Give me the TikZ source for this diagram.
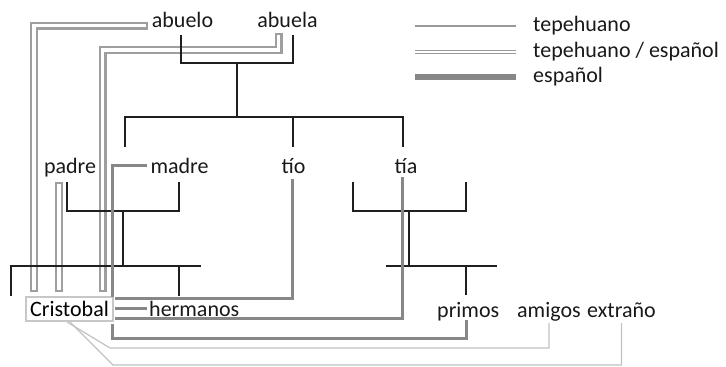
\documentclass[tikz,border=0pt]{standalone}
\usepackage{fontspec}
\setmainfont{Carlito}
\begin{document}
\begin{tikzpicture}[x=1pt,y=-1pt,
  lbl/.style={inner sep=0pt,anchor=base,font=\fontsize{22}{26}\selectfont,text=black!90},
  fam/.style={line width=1.5pt,draw=black!88},
  dbl/.style={draw=black!38,line width=2.2pt,double=white,double distance=3.6pt,line cap=rect,line join=miter},
  esp/.style={draw=black!47,line width=3pt,line join=miter},
  tep/.style={draw=black!24,line width=1.2pt},
  egobox/.style={draw=black!22,line width=1.3pt,minimum width=87pt,minimum height=24pt,inner sep=0pt,font=\fontsize{22}{26}\selectfont}]
\useasboundingbox (0,0) rectangle (726,367);
% --- nodes ---
\node[lbl] (abuelo) at (182.5,27) {abuelo};
\node[lbl] (abuela) at (287.5,27) {abuela};
\node[lbl] (padre) at (70,173) {padre};
\node[lbl] (madre) at (179.5,173) {madre};
\node[lbl] (tio) at (293.5,173) {tío};
\node[lbl] (tia) at (406,173) {tía};
\node[egobox] (cris) at (69.5,309) {Cristobal};
\node[lbl,anchor=base west] (herm) at (149,316) {hermanos};
\node[lbl,anchor=base west] (primos) at (437,317) {primos};
\node[lbl,anchor=base west] (amigos) at (517,317) {amigos};
\node[lbl,anchor=base west] (extr) at (587,317) {extraño};
% legend
\node[lbl,anchor=base west] (legA) at (533,31) {tepehuano};
\node[lbl,anchor=base west] (legB) at (533,57) {tepehuano / español};
\node[lbl,anchor=base west] (legC) at (533,82) {español};
\coordinate (lA) at (415,26); \coordinate (lA2) at (516,26);
\coordinate (lB) at (415,52); \coordinate (lB2) at (516,52);
\coordinate (lC) at (415,77); \coordinate (lC2) at (516,77);
\draw[draw=black!40,line width=1.6pt] (lA) -- (lA2);
\draw[draw=black!40,line width=1.3pt,double=white,double distance=2.2pt] (lB) -- (lB2);
\draw[draw=black!47,line width=6pt] (lC) -- (lC2);
% --- connection points ---
\coordinate (abueloS) at (181,35);
\coordinate (abuelaS) at (293,35);
\coordinate (padreS) at (67,182);
\coordinate (madreS) at (179,182);
\coordinate (tiaL) at (353,182);
\coordinate (tiaR) at (466,182);
% --- tepehuano (thin) ---
\draw[tep] (67,322) -- (110,348) -| (amigos.south |- 0,323);
\draw[tep] (70,322) -- (113,365) -| (extr.south |- 0,323);
% --- tepehuano / español (double) ---
\draw[dbl] (144,25.5) -- (34,25.5) -- (34,288);
\draw[dbl] (278.5,37) -- (278.5,50) -- (102.5,50) -- (102.5,288);
\draw[dbl] (59,186) -- (59,288);
% --- family tree (black) ---
\draw[fam] (abueloS) -- (181,63) -- (293,63) -- (abuelaS);
\draw[fam] (237,63) -- (237,117);
\draw[fam] (125,147) -- (125,117) -- (403,117) -- (403,147);
\draw[fam] (293,117) -- (293,147);
\draw[fam] (padreS) -- (67,211) -- (179,211) -- (madreS);
\draw[fam] (123,211) -- (123,266);
\draw[fam] (11,296) -- (11,266) -- (201,266);
\draw[fam] (179,266) -- (179,296);
\draw[fam] (tiaL) -- (353,211) -- (466,211) -- (tiaR);
\draw[fam] (409,211) -- (409,266);
\draw[fam] (386,266) -- (497,266);
\draw[fam] (466,266) -- (466,295);
% --- español (thick) ---
\draw[esp] (147,165) -- (112,165) -- (112,297);
\draw[esp] (292.5,179) -- (292.5,298) -- (115,298);
\draw[esp] (115,308) -- (147,308);
\draw[esp] (402.5,177) -- (402.5,318) -- (115,318);
\draw[esp] (466,320) -- (466,338) -- (112,338) -- (112,324);
\end{tikzpicture}
\end{document}
